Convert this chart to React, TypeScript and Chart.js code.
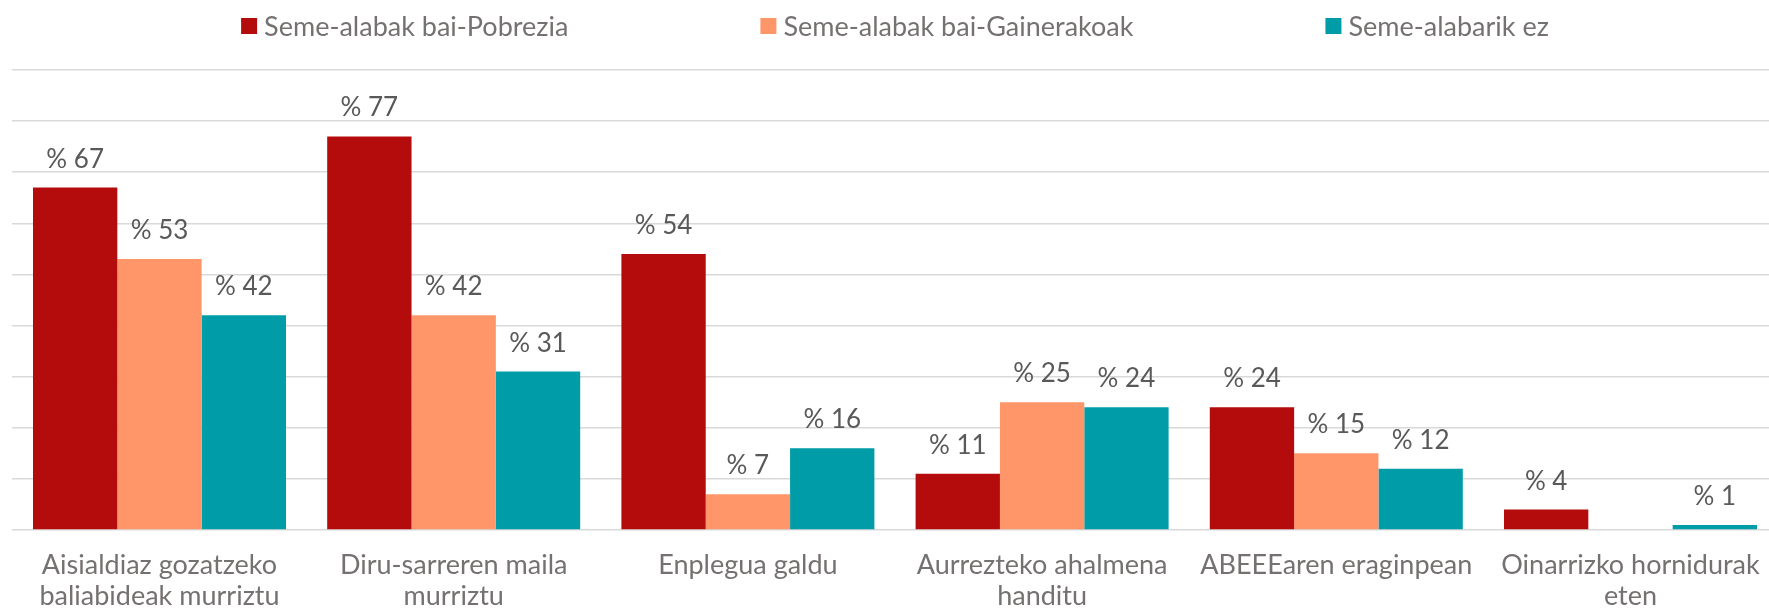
import React, { useEffect, useRef } from "react";
import { Chart, registerables } from "chart.js";

Chart.register(...registerables);

const categories: (string | string[])[] = [
  ["Aisialdiaz gozatzeko", "baliabideak murriztu"],
  ["Diru-sarreren maila", "murriztu"],
  "Enplegua galdu",
  ["Aurrezteko ahalmena", "handitu"],
  "ABEEEaren eraginpean",
  ["Oinarrizko hornidurak", "eten"],
];

const seriesNames = [
  "Seme-alabak bai-Pobrezia",
  "Seme-alabak bai-Gainerakoak",
  "Seme-alabarik ez",
];

const pobrezia: (number | null)[] = [67, 77, 54, 11, 24, 4];
const gainerakoak: (number | null)[] = [53, 42, 7, 25, 15, null];
const seneGabe: (number | null)[] = [42, 31, 16, 24, 12, 1];

const colors = ["#B40C0D", "#FF9669", "#009CA7"];

const FONT = "Lato, 'Noto Sans', sans-serif";
const LABEL_GRAY = "#767171";
const VALUE_GRAY = "#595959";

const valueLabels = {
  id: "valueLabels",
  afterDatasetsDraw(chart: any) {
    const ctx = chart.ctx;
    ctx.save();
    ctx.font = `26px ${FONT}`;
    ctx.fillStyle = VALUE_GRAY;
    ctx.textAlign = "center";
    ctx.textBaseline = "alphabetic";
    chart.data.datasets.forEach((ds: any, di: number) => {
      const meta = chart.getDatasetMeta(di);
      meta.data.forEach((bar: any, i: number) => {
        const v = ds.data[i];
        if (v === null || v === undefined || v === 0) return;
        ctx.fillText(`% ${v}`, bar.x, bar.y - 20);
      });
    });
    ctx.restore();
  },
};

const customLegend = {
  id: "customLegend",
  afterDraw(chart: any) {
    const ctx = chart.ctx;
    ctx.save();
    ctx.font = `27px ${FONT}`;
    ctx.textBaseline = "middle";
    ctx.textAlign = "left";
    const box = 16;
    const gapText = 7;
    const gapItem = 192;
    const widths = chart.data.datasets.map((ds: any) => ctx.measureText(ds.label).width);
    const total =
      widths.reduce((a: number, w: number) => a + box + gapText + w, 0) +
      gapItem * (widths.length - 1);
    let x = 895 - total / 2;
    const cy = 26;
    chart.data.datasets.forEach((ds: any, i: number) => {
      ctx.fillStyle = ds.backgroundColor;
      ctx.fillRect(x, cy - box / 2, box, box);
      ctx.fillStyle = LABEL_GRAY;
      ctx.fillText(ds.label, x + box + gapText, cy + 1);
      x += box + gapText + widths[i] + gapItem;
    });
    ctx.restore();
  },
};

export default function App() {
  const ref = useRef<HTMLCanvasElement>(null);

  useEffect(() => {
    if (!ref.current) return;
    const chart = new Chart(ref.current, {
      type: "bar",
      data: {
        labels: categories,
        datasets: [
          { label: seriesNames[0], data: pobrezia, backgroundColor: colors[0] },
          { label: seriesNames[1], data: gainerakoak, backgroundColor: colors[1] },
          { label: seriesNames[2], data: seneGabe, backgroundColor: colors[2] },
        ],
      },
      options: {
        responsive: false,
        animation: false,
        devicePixelRatio: 1,
        layout: { padding: { left: 12.4, right: 12.4, top: 70, bottom: 0 } },
        datasets: {
          bar: { categoryPercentage: 0.86, barPercentage: 1, borderWidth: 0 },
        },
        plugins: {
          legend: { display: false },
          tooltip: { enabled: false },
          title: { display: false },
        },
        scales: {
          x: {
            grid: { display: false, drawTicks: false },
            border: { display: false },
            ticks: {
              color: LABEL_GRAY,
              font: { family: FONT, size: 27, lineHeight: "31px" },
              padding: 20,
              maxRotation: 0,
              autoSkip: false,
            },
            afterFit: (s: any) => {
              s.height = 82;
            },
          },
          y: {
            min: 0,
            max: 90,
            ticks: { display: false, stepSize: 10 },
            grid: { color: "#D9D9D9", lineWidth: 1.5, drawTicks: false },
            border: { display: false },
            afterFit: (s: any) => {
              s.width = 0;
            },
          },
        },
      },
      plugins: [valueLabels, customLegend],
    });
    return () => chart.destroy();
  }, []);

  return (
    <div
      style={{
        position: "fixed",
        left: 0,
        top: 0,
        width: 1769,
        height: 612,
        overflow: "hidden",
        background: "#fff",
      }}
    >
      <canvas ref={ref} width={1790} height={612} style={{ display: "block", width: 1790, height: 612 }} />
    </div>
  );
}
